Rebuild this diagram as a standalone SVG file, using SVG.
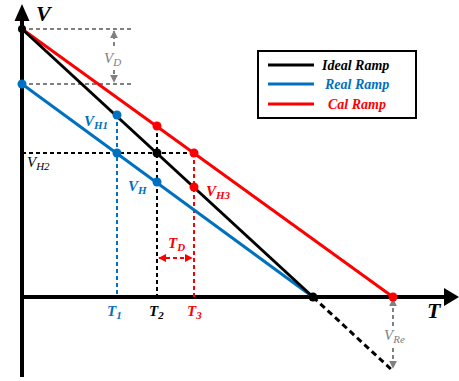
<svg xmlns="http://www.w3.org/2000/svg" width="459" height="381" viewBox="0 0 459 381">
<style>
text{font-family:"Liberation Serif","Times New Roman",serif;font-style:italic;font-weight:bold}
.big{font-size:22px}
.lab{font-size:15px}
.sub{font-size:11px}
.leg{font-size:14px}
.thin{font-weight:normal}
.blk{fill:#000}.blu{fill:#0070C0}.red{fill:#FF0000}.gry{fill:#808080}
.dash{fill:none;stroke-width:2;stroke-dasharray:4,3}
.gdash{fill:none;stroke:#808080;stroke-width:2;stroke-dasharray:4,3}
</style>
<defs>
<marker id="ga" viewBox="0 0 10 10" refX="9" refY="5" markerWidth="4" markerHeight="4" orient="auto-start-reverse"><path d="M0,0L10,5L0,10z" fill="#808080"/></marker>
<marker id="ra" viewBox="0 0 10 10" refX="9" refY="5" markerWidth="4" markerHeight="4" orient="auto-start-reverse"><path d="M0,0L10,5L0,10z" fill="#FF0000"/></marker>
</defs>
<rect width="459" height="381" fill="#fff"/>
<g id="axes">
<line x1="22" y1="377" x2="22" y2="18" stroke="#000" stroke-width="4"/>
<path d="M22,4L29.5,21L14.5,21z" fill="#000"/>
<line x1="20" y1="297" x2="446" y2="297" stroke="#000" stroke-width="4"/>
<path d="M459,297L444,288L444,306z" fill="#000"/>
<text class="big" x="36" y="21">V</text>
<text class="big" x="427" y="318">T</text>
</g>
<g id="connectors">
<line x1="22" y1="29" x2="133" y2="29" class="gdash"/>
<line x1="22" y1="84" x2="133" y2="84" class="gdash"/>
<line x1="114" y1="46" x2="114" y2="31" class="gdash" marker-end="url(#ga)"/>
<line x1="114" y1="70" x2="114" y2="82" class="gdash" marker-end="url(#ga)"/>
<line x1="393" y1="326" x2="393" y2="299" class="gdash" marker-end="url(#ga)"/>
<line x1="393" y1="348" x2="393" y2="368" class="gdash" marker-end="url(#ga)"/>
<line x1="22" y1="153" x2="194" y2="153" class="dash" stroke="#000"/>
<line x1="117" y1="115" x2="117" y2="297" class="dash" stroke="#0070C0"/>
<line x1="157" y1="126" x2="157" y2="297" class="dash" stroke="#000"/>
<line x1="194" y1="153" x2="194" y2="297" class="dash" stroke="#FF0000"/>
<line x1="159" y1="258" x2="192" y2="258" class="dash" stroke="#FF0000" marker-start="url(#ra)" marker-end="url(#ra)"/>
<line x1="313" y1="297" x2="393" y2="371" stroke="#000" stroke-width="3" stroke-dasharray="6,4"/>
</g>
<g id="ramps">
<line x1="22" y1="29" x2="393" y2="297" stroke="#FF0000" stroke-width="3"/>
<line x1="22" y1="84" x2="313" y2="297" stroke="#0070C0" stroke-width="3"/>
<line x1="22" y1="29" x2="313" y2="297" stroke="#000" stroke-width="3"/>
</g>
<g id="points">
<circle cx="22" cy="29" r="4" fill="#000"/>
<circle cx="22" cy="84" r="4.5" fill="#0070C0"/>
<circle cx="117" cy="115" r="4.5" fill="#0070C0"/>
<circle cx="117" cy="153" r="4.5" fill="#0070C0"/>
<circle cx="157" cy="126" r="4.5" fill="#FF0000"/>
<circle cx="157" cy="153" r="4.5" fill="#000"/>
<circle cx="157" cy="182" r="4.5" fill="#0070C0"/>
<circle cx="194" cy="153" r="4.5" fill="#FF0000"/>
<circle cx="194" cy="187" r="4.5" fill="#FF0000"/>
<circle cx="313" cy="297" r="4.5" fill="#000"/>
<circle cx="393" cy="297" r="4.5" fill="#FF0000"/>
</g>
<g id="labels">
<text class="lab thin gry" x="104" y="63">V<tspan class="sub" dy="3">D</tspan></text>
<text class="lab thin gry" x="384" y="340">V<tspan class="sub" dy="3">Re</tspan></text>
<text class="lab blu" x="84" y="126">V<tspan class="sub" dy="3">H1</tspan></text>
<text class="lab thin blk" x="27" y="167">V<tspan class="sub" dy="3">H2</tspan></text>
<text class="lab blu" x="128" y="191">V<tspan class="sub" dy="3">H</tspan></text>
<text class="lab red" x="206" y="196">V<tspan class="sub" dy="3">H3</tspan></text>
<text class="lab red" x="168" y="248">T<tspan class="sub" dy="3">D</tspan></text>
<text class="lab blu" x="107" y="316">T<tspan class="sub" dy="3">1</tspan></text>
<text class="lab blk" x="149" y="316">T<tspan class="sub" dy="3">2</tspan></text>
<text class="lab red" x="187" y="316">T<tspan class="sub" dy="3">3</tspan></text>
</g>
<g id="legend">
<rect x="258" y="51" width="158" height="67" fill="#fff" stroke="#000" stroke-width="2"/>
<line x1="268" y1="65" x2="314" y2="65" stroke="#000" stroke-width="3"/>
<line x1="268" y1="84" x2="314" y2="84" stroke="#0070C0" stroke-width="3"/>
<line x1="268" y1="104" x2="314" y2="104" stroke="#FF0000" stroke-width="3"/>
<text class="leg blk" x="322" y="70">Ideal Ramp</text>
<text class="leg blu" x="325" y="89">Real Ramp</text>
<text class="leg red" x="328" y="109">Cal Ramp</text>
</g>
</svg>
